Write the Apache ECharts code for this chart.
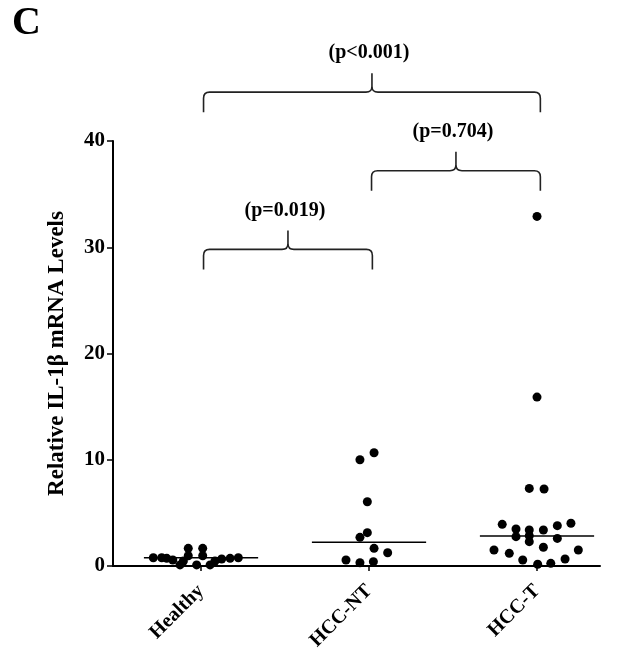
<!DOCTYPE html>
<html>
<head>
<meta charset="utf-8">
<script src="https://cdn.jsdelivr.net/npm/echarts@6/dist/echarts.min.js"></script>
<style>html,body{margin:0;padding:0;background:#fff}#c{width:632px;height:656px}</style>
</head>
<body>
<div id="c"></div>
<script>
// ---- data ----
const categories = ['Healthy', 'HCC-NT', 'HCC-T'];
const yTicks = [0, 10, 20, 30, 40];
const healthyValues = [0.78, 0.78, 0.72, 0.56, 0.1, 0.47, 1.66, 0.97, 0.1, 1.66, 0.97, 0.1, 0.47, 0.66, 0.72, 0.78];
const healthyJitter = [-0.284, -0.234, -0.204, -0.168, -0.125, -0.105, -0.076, -0.076, -0.026, 0.01, 0.01, 0.054, 0.083, 0.123, 0.173, 0.222];
const ntValues = [10.0, 10.66, 6.05, 2.7, 3.14, 1.66, 1.25, 0.56, 0.31, 0.41];
const ntJitter = [-0.054, 0.03, -0.01, -0.054, -0.01, 0.03, 0.111, -0.137, -0.054, 0.026];
const tValues = [3.92, 3.48, 2.76, 3.39, 2.85, 2.29, 3.39, 1.76, 3.80, 2.60, 4.02, 1.51, 1.19, 0.56, 0.16, 0.25, 0.66, 1.51, 7.3, 7.25, 15.9, 32.9];
const tJitter = [-0.207, -0.125, -0.125, -0.046, -0.046, -0.046, 0.038, 0.038, 0.121, 0.121, 0.202, -0.256, -0.165, -0.085, 0.004, 0.082, 0.167, 0.246, -0.046, 0.042, 0, 0];
const medians = [0.78, 2.23, 2.82];
const compFrom = [1, 2, 1];
const compTo = [2, 3, 3];
const compLabels = ['(p=0.019)', '(p=0.704)', '(p<0.001)'];
const compLevels = [29.8, 37.2, 44.6];

// ---- chart ----
const FONT = "'Liberation Serif', 'Times New Roman', serif";
const chart = echarts.init(document.getElementById('c'));

function pts(vals, jit, idx) {
  return vals.map((v, i) => [idx + 1 + jit[i], v]);
}
const scatterStyle = { type: 'scatter', symbol: 'circle', symbolSize: 9, itemStyle: { color: '#000', opacity: 1 }, z: 3 };

const medianData = medians.map((m, i) => [i + 1, m]);
const bracketData = compFrom.map((f, i) => [f, compTo[i], compLevels[i], i]);

chart.setOption({
  animation: false,
  graphic: [{ type: 'text', left: 12, top: 4, style: { text: 'C', font: 'bold 40px ' + FONT, fill: '#000' } }],
  grid: { left: 113, right: 32, top: 141, bottom: 90 },
  xAxis: {
    type: 'value', min: 0.476, max: 3.375,
    splitLine: { show: false },
    axisLine: { show: true, lineStyle: { color: '#000', width: 2 } },
    axisTick: { show: true, length: 5, lineStyle: { color: '#000', width: 1.5 }, customValues: [1, 2, 3] },
    axisLabel: {
      customValues: [1, 2, 3], rotate: 45, margin: 22,
      formatter: v => categories[Math.round(v) - 1] || '',
      fontFamily: FONT, fontWeight: 'bold', fontSize: 20, color: '#000'
    }
  },
  yAxis: {
    type: 'value', min: 0, max: 40, interval: 10,
    name: 'Relative IL-1β mRNA Levels', nameLocation: 'middle', nameGap: 44,
    nameTextStyle: { fontFamily: FONT, fontWeight: 'bold', fontSize: 23, color: '#000' },
    splitLine: { show: false },
    axisLine: { show: true, lineStyle: { color: '#000', width: 2 } },
    axisTick: { show: true, length: 6, lineStyle: { color: '#000', width: 1.5 } },
    axisLabel: { margin: 8, fontFamily: FONT, fontWeight: 'bold', fontSize: 21, color: '#000',
      formatter: v => yTicks.indexOf(v) >= 0 ? String(v) : '' }
  },
  series: [
    Object.assign({ data: pts(healthyValues, healthyJitter, 0) }, scatterStyle),
    Object.assign({ data: pts(ntValues, ntJitter, 1) }, scatterStyle),
    Object.assign({ data: pts(tValues, tJitter, 2) }, scatterStyle),
    {
      type: 'custom', data: medianData, clip: false, z: 2,
      renderItem: (params, api) => {
        const c = api.value(0), m = api.value(1);
        const a = api.coord([c - 0.34, m]), b = api.coord([c + 0.34, m]);
        return { type: 'line', shape: { x1: a[0], y1: a[1], x2: b[0], y2: b[1] }, style: { stroke: '#000', lineWidth: 1.6 } };
      }
    },
    {
      type: 'custom', data: bracketData, clip: false, z: 2,
      renderItem: (params, api) => {
        const x0v = api.value(0), x1v = api.value(1), lv = api.value(2), li = api.value(3);
        const p0 = api.coord([x0v + 0.015, lv]), p1 = api.coord([x1v + 0.02, lv]);
        const y = p0[1], x0 = p0[0], x1 = p1[0], xc = (x0 + x1) / 2;
        const d = 'M' + x0 + ',' + (y + 20) + ' L' + x0 + ',' + (y + 6) + ' Q' + x0 + ',' + y + ' ' + (x0 + 6) + ',' + y +
          ' L' + (xc - 6) + ',' + y + ' Q' + xc + ',' + y + ' ' + xc + ',' + (y - 6) + ' L' + xc + ',' + (y - 19) +
          ' M' + xc + ',' + (y - 6) + ' Q' + xc + ',' + y + ' ' + (xc + 6) + ',' + y +
          ' L' + (x1 - 6) + ',' + y + ' Q' + x1 + ',' + y + ' ' + x1 + ',' + (y + 6) + ' L' + x1 + ',' + (y + 20);
        return {
          type: 'group', children: [
            { type: 'path', shape: { pathData: d }, style: { stroke: '#222', lineWidth: 1.6, fill: null } },
            { type: 'text', x: xc - 3, y: y - 39, style: { text: compLabels[li], font: 'bold 20px ' + FONT, fill: '#000', align: 'center', verticalAlign: 'middle' } }
          ]
        };
      }
    }
  ]
});
</script>
</body>
</html>
